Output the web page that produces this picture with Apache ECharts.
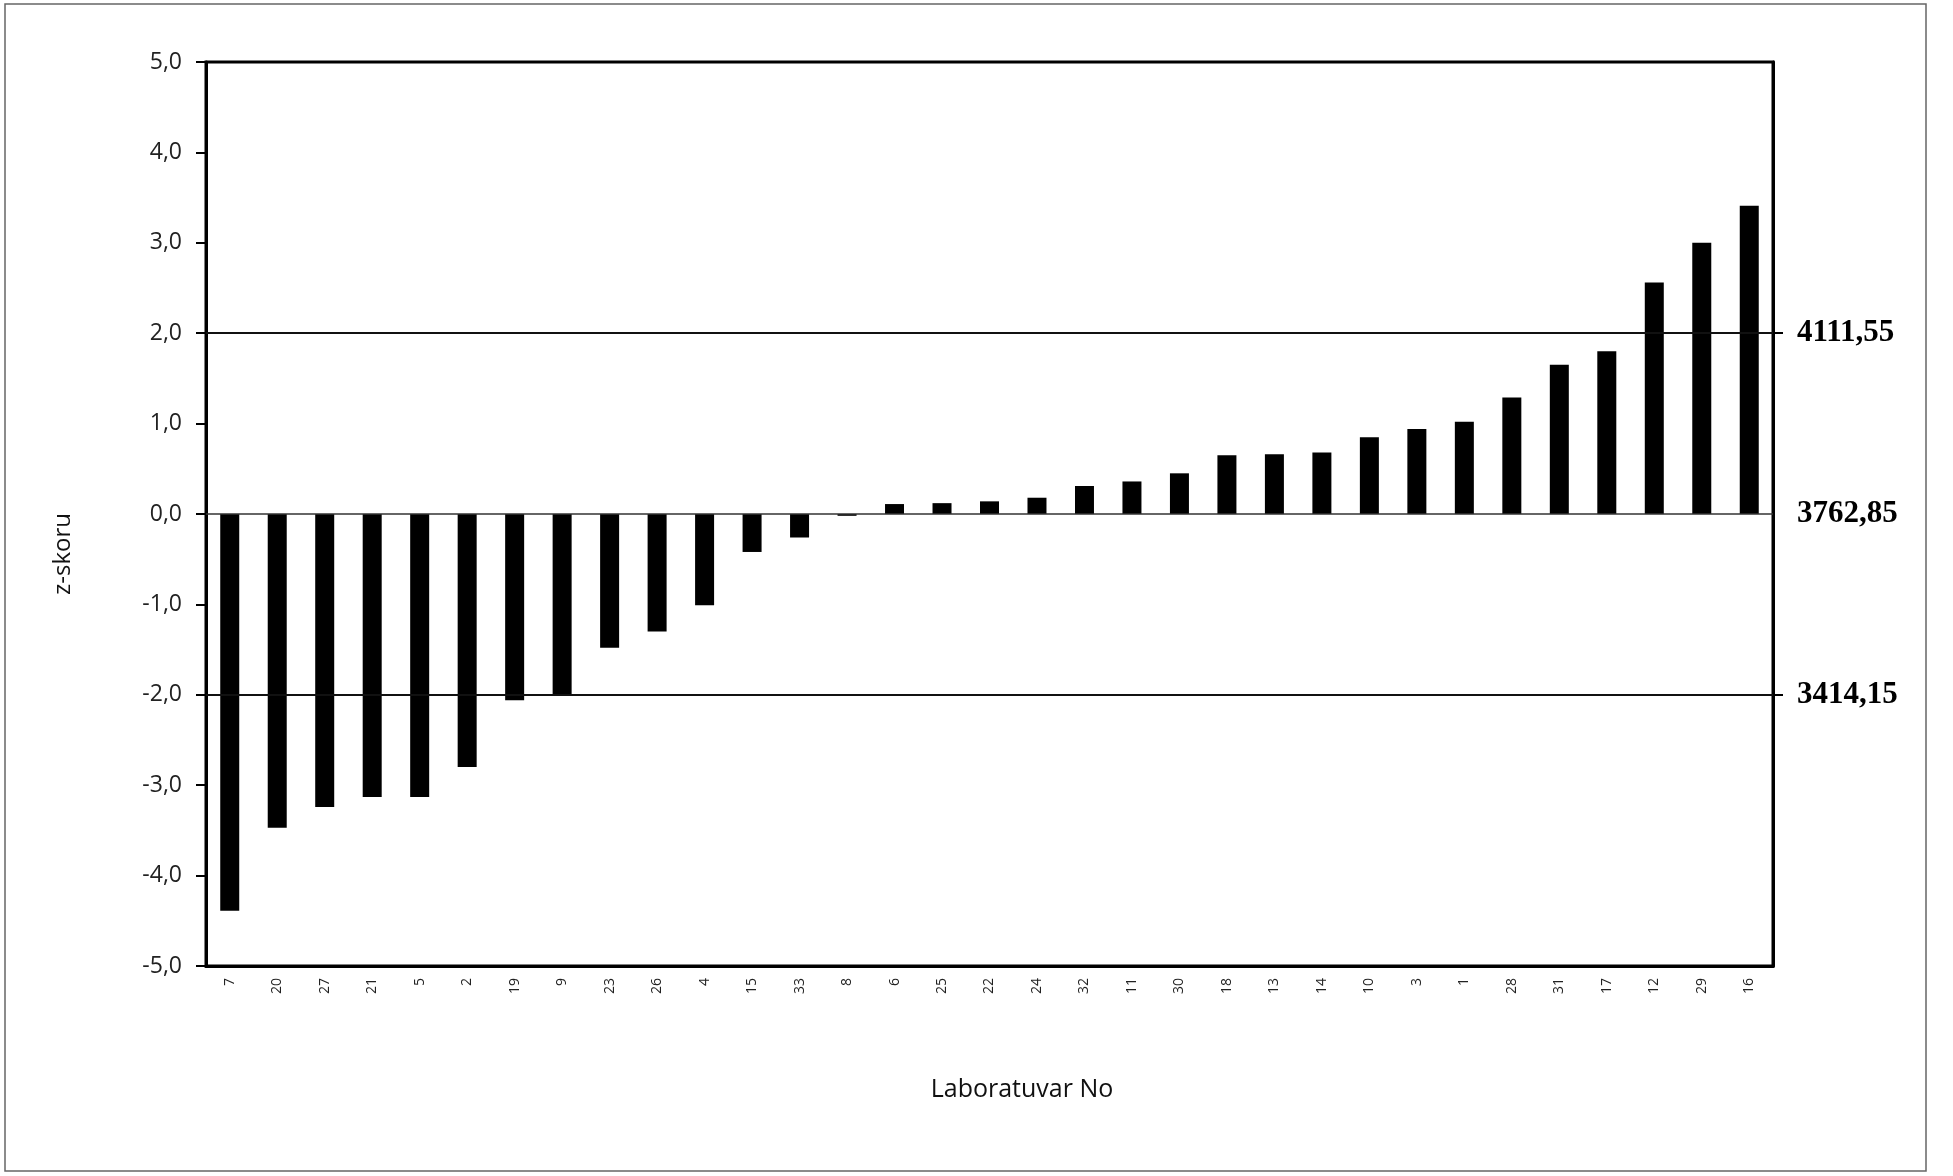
<!DOCTYPE html>
<html>
<head>
<meta charset="utf-8">
<script src="https://cdn.jsdelivr.net/npm/echarts@6/dist/echarts.min.js"></script>
<style>
html,body{margin:0;padding:0;background:#fff;}
#chart{width:1953px;height:1176px;}
</style>
</head>
<body>
<div id="chart"></div>
<script>
const labs = ['7','20','27','21','5','2','19','9','23','26','4','15','33','8','6','25','22','24','32','11','30','18','13','14','10','3','1','28','31','17','12','29','16'];
const zScores = [-4.39,-3.47,-3.24,-3.13,-3.13,-2.80,-2.06,-2.00,-1.48,-1.30,-1.01,-0.42,-0.26,-0.02,0.11,0.12,0.14,0.18,0.31,0.36,0.45,0.65,0.66,0.68,0.85,0.94,1.02,1.29,1.65,1.80,2.56,3.00,3.41];
const yTickValues = [-5,-4,-3,-2,-1,0,1,2,3,4,5];
const yTickLabels = ['-5,0','-4,0','-3,0','-2,0','-1,0','0,0','1,0','2,0','3,0','4,0','5,0'];
const limitValues = [2, 0, -2];
const limitLabels = ['4111,55','3762,85','3414,15'];

const chart = echarts.init(document.getElementById('chart'));
chart.setOption({
  animation: false,
  backgroundColor: '#fff',
  grid: { left: 206, right: 180, top: 62, bottom: 210, show: true, borderColor: '#000', borderWidth: 3, backgroundColor: 'transparent' },
  xAxis: {
    type: 'category',
    data: labs,
    axisLine: { onZero: false, lineStyle: { color: '#000', width: 3 } },
    axisTick: { show: false },
    axisLabel: { rotate: 90, fontFamily: 'Open Sans', fontSize: 14, color: '#222', margin: 12, interval: 0 },
    splitLine: { show: false }
  },
  yAxis: [{
    type: 'value',
    min: -5, max: 5, interval: 1,
    axisLine: { show: true, lineStyle: { color: '#000', width: 3 } },
    axisTick: { show: true, length: 10, lineStyle: { color: '#000', width: 2 } },
    axisLabel: {
      fontFamily: 'Open Sans', fontSize: 23, color: '#222', margin: 24,
      formatter: v => { const i = yTickValues.indexOf(Math.round(v)); return i >= 0 ? yTickLabels[i] : ''; }
    },
    splitLine: { show: false }
  }, {
    type: 'value',
    position: 'right',
    min: -5, max: 5, interval: 1,
    axisLine: { show: true, lineStyle: { color: '#000', width: 3 } },
    axisTick: { show: true, length: 10, customValues: [2, -2], lineStyle: { color: '#000', width: 2 } },
    axisLabel: {
      customValues: limitValues,
      fontFamily: 'Liberation Serif', fontWeight: 'bold', fontSize: 31, color: '#000', margin: 24,
      formatter: v => { const i = limitValues.indexOf(Math.round(v)); return i >= 0 ? limitLabels[i] : ''; }
    },
    splitLine: { show: false }
  }],
  graphic: [
    { type: 'rect', shape: { x: 5, y: 4, width: 1921, height: 1167 }, style: { fill: 'none', stroke: '#666', lineWidth: 1.5 }, z: -1 },
    { type: 'text', x: 63, y: 554, rotation: Math.PI / 2, style: { text: 'z-skoru', fontFamily: 'Open Sans', fontSize: 24, fill: '#111', textAlign: 'center', textVerticalAlign: 'middle' } },
    { type: 'text', x: 1022, y: 1090, style: { text: 'Laboratuvar No', fontFamily: 'Open Sans', fontSize: 25, fill: '#111', textAlign: 'center', textVerticalAlign: 'middle' } }
  ],
  series: [{
    type: 'bar',
    data: zScores,
    barWidth: 19,
    itemStyle: { color: '#000' },
    markLine: {
      silent: true,
      symbol: 'none',
      label: { show: false },
      data: [
        { yAxis: 2, lineStyle: { color: '#111', width: 2, type: 'solid' } },
        { yAxis: -2, lineStyle: { color: '#111', width: 2, type: 'solid' } },
        { yAxis: 0, lineStyle: { color: '#333', width: 1.5, type: 'solid' } }
      ]
    }
  }]
});
</script>
</body>
</html>
